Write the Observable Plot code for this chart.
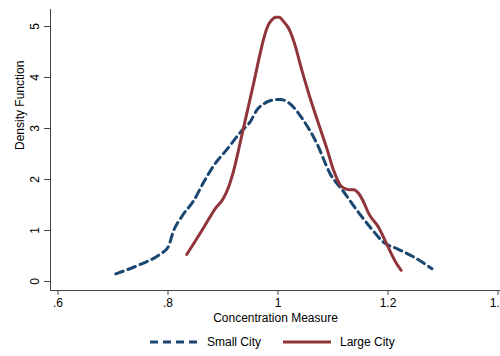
<!DOCTYPE html>
<html><head><meta charset="utf-8">
<script src="https://cdn.jsdelivr.net/npm/d3@7"></script>
<script src="https://cdn.jsdelivr.net/npm/@observablehq/plot@0.6"></script>
<style>
html,body{margin:0;padding:0;background:#fff;overflow:hidden;width:500px;height:356px;}
#chart{width:500px;height:356px;font-family:"Liberation Sans",Arial,sans-serif;}
#legend{display:flex;align-items:center;justify-content:flex-start;height:28px;font-size:12px;color:#000;}
#legend .item{display:flex;align-items:center;}
</style></head><body><div id="chart"></div>
<script>
const seriesNames = ["Small City", "Large City"];
const seriesColors = ["#1a476f", "#90353b"];
const seriesDash = ["8,5", null];

const smallX = [0.705, 0.744, 0.786, 0.80, 0.81, 0.826, 0.847, 0.865, 0.883, 0.908, 0.932, 0.95, 0.962, 0.975, 0.992, 1.005, 1.02, 1.045, 1.07, 1.095, 1.12, 1.144, 1.168, 1.192, 1.217, 1.247, 1.28];
const smallY = [0.15, 0.31, 0.54, 0.67, 0.99, 1.29, 1.59, 1.95, 2.27, 2.60, 2.93, 3.14, 3.37, 3.49, 3.56, 3.57, 3.50, 3.18, 2.72, 2.11, 1.75, 1.39, 1.06, 0.77, 0.64, 0.48, 0.25];

const largeX = [0.834, 0.85, 0.865, 0.886, 0.90, 0.91, 0.92, 0.932, 0.944, 0.956, 0.965, 0.974, 0.982, 0.989, 0.995, 1.002, 1.01, 1.02, 1.029, 1.044, 1.056, 1.071, 1.089, 1.101, 1.114, 1.122, 1.129, 1.138, 1.147, 1.156, 1.165, 1.183, 1.20, 1.214, 1.224];
const largeY = [0.53, 0.80, 1.06, 1.43, 1.62, 1.85, 2.20, 2.76, 3.33, 3.90, 4.35, 4.76, 5.02, 5.13, 5.18, 5.18, 5.10, 4.95, 4.70, 4.12, 3.68, 3.18, 2.60, 2.18, 1.88, 1.82, 1.80, 1.80, 1.72, 1.55, 1.33, 1.06, 0.68, 0.38, 0.22];

const xTicks = [0.6, 0.8, 1, 1.2, 1.4];
const xTickLabels = [".6", ".8", "1", "1.2", "1.4"];
const yTicks = [0, 1, 2, 3, 4, 5];
const xLabel = "Concentration Measure";
const yLabel = "Density Function";
const xDomain = [0.5864, 1.4045];
const yDomain = [-0.176, 5.333];

const series = [
  smallX.map((x, i) => ({series: seriesNames[0], x, y: smallY[i]})),
  largeX.map((x, i) => ({series: seriesNames[1], x, y: largeY[i]}))
];

const axisColor = "#444";
const plot = Plot.plot({
  width: 500, height: 328,
  marginLeft: 50, marginRight: 0, marginTop: 9, marginBottom: 38,
  style: {fontFamily: "'Liberation Sans', Arial, sans-serif", fontSize: "12px", color: "#000", background: "#fff", overflow: "visible"},
  x: {domain: xDomain},
  y: {domain: yDomain},
  marks: [
    Plot.ruleX([xDomain[0]], {stroke: axisColor, strokeWidth: 1}),
    Plot.ruleY([yDomain[0]], {stroke: axisColor, strokeWidth: 1}),
    Plot.axisX({ticks: xTicks, tickFormat: d => xTickLabels[xTicks.indexOf(d)], tickSize: 5, tickPadding: 3,
      stroke: axisColor, fill: "#000", fontSize: 12, label: null}),
    Plot.axisY({ticks: yTicks, tickFormat: d => String(d), tickSize: 6, tickPadding: 6, tickRotate: -90, textAnchor: "middle",
      stroke: axisColor, fill: "#000", fontSize: 12, label: null}),
    Plot.text([xLabel], {frameAnchor: "bottom", text: d => d, dy: 31, fontSize: 12, fill: "#000"}),
    Plot.text([yLabel], {frameAnchor: "left", text: d => d, rotate: -90, dx: -30, fontSize: 12, fill: "#000"}),
    ...series.map((d, i) => Plot.line(d, {x: "x", y: "y", stroke: seriesColors[i], strokeWidth: 3,
      strokeDasharray: seriesDash[i] || undefined, curve: "monotone-x"}))
  ]
});
const chart = document.getElementById("chart");
chart.appendChild(plot);

// legend
const legend = document.createElement("div");
legend.id = "legend";
legend.style.paddingLeft = "150px";
seriesNames.forEach((name, i) => {
  const item = document.createElement("div");
  item.className = "item";
  item.style.marginRight = i === 0 ? "22px" : "0";
  const ns = "http://www.w3.org/2000/svg";
  const svg = document.createElementNS(ns, "svg");
  svg.setAttribute("width", 48); svg.setAttribute("height", 10);
  const ln = document.createElementNS(ns, "line");
  ln.setAttribute("x1", 0); ln.setAttribute("x2", 48); ln.setAttribute("y1", 5); ln.setAttribute("y2", 5);
  ln.setAttribute("stroke", seriesColors[i]); ln.setAttribute("stroke-width", 3);
  if (seriesDash[i]) ln.setAttribute("stroke-dasharray", seriesDash[i]);
  svg.appendChild(ln);
  const t = document.createElement("span");
  t.textContent = name;
  t.style.marginLeft = "9px";
  item.appendChild(svg); item.appendChild(t);
  legend.appendChild(item);
});
chart.appendChild(legend);
</script></body></html>
